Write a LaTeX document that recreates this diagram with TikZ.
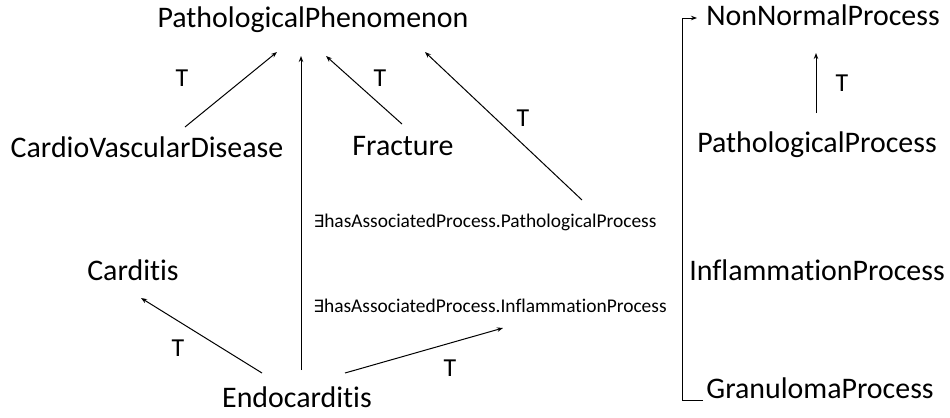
\documentclass[tikz,border=0pt]{standalone}
\usepackage{fontspec}
\setmainfont{Carlito}[Ligatures=NoCommon]
\newfontfamily\symfnt{DejaVu Sans}
\usetikzlibrary{arrows.meta}
\tikzset{
  big/.style={font=\fontsize{30}{36}\selectfont, inner sep=0pt, anchor=base},
  small/.style={font=\fontsize{19.5}{23}\selectfont, inner sep=0pt, anchor=base},
  tlab/.style={font=\fontsize{26}{31}\selectfont, inner sep=0pt, anchor=center},
  arr/.style={line width=1bp, -{Stealth[length=6bp,width=4.5bp]}}
}
\newcommand{\exq}{{\symfnt\fontsize{17}{20}\selectfont ∃}}
\begin{document}
\begin{tikzpicture}[x=1bp,y=-1bp]
\useasboundingbox (0,0) rectangle (950,417);
\node[big] (pp) at (313,27) {PathologicalPhenomenon};
\node[big] (cvd) at (147,157) {CardioVascularDisease};
\node[big] (frac) at (403,155) {Fracture};
\node[big] (card) at (133,280) {Carditis};
\node[big] (endo) at (297,407) {Endocarditis};
\node[small] (a1) at (485,227) {\exq hasAssociatedProcess.PathologicalProcess};
\node[small] (a2) at (490,312) {\exq hasAssociatedProcess.InflammationProcess};
\node[big] (nnp) at (823,25) {NonNormalProcess};
\node[big] (ppr) at (817,152) {PathologicalProcess};
\node[big] (ip) at (817,280) {InflammationProcess};
\node[big] (gp) at (820,398) {GranulomaProcess};

\draw[arr] ([shift={(38,-30)}]cvd.base) -- ([shift={(-36,25)}]pp.base);
\draw[arr] ([shift={(4,-37)}]endo.base) -- ([shift={(-12,29)}]pp.base);
\draw[arr] ([shift={(-1,-31)}]frac.base) -- ([shift={(13,29)}]pp.base);
\draw[arr] ([shift={(97,-27)}]a1.base) -- ([shift={(112,25)}]pp.base);
\draw[arr] ([shift={(-35,-34)}]endo.base) -- ([shift={(8,18)}]card.base);
\draw[arr] ([shift={(48,-34)}]endo.base) -- ([shift={(13,16)}]a2.base);
\draw[arr] ([shift={(-1,-39)}]ppr.base) -- ([shift={(-7,28)}]nnp.base);
\draw[arr] ([shift={(-117,2)}]gp.base) -| (682,18) -- ([shift={(-126,-7)}]nnp.base);

\node[tlab] (t1) at (182,78) {T};
\node[tlab] (t2) at (380,78) {T};
\node[tlab] (t3) at (523,118) {T};
\node[tlab] (t4) at (842,83) {T};
\node[tlab] (t5) at (178,348) {T};
\node[tlab] (t6) at (450,368) {T};
\end{tikzpicture}
\end{document}
